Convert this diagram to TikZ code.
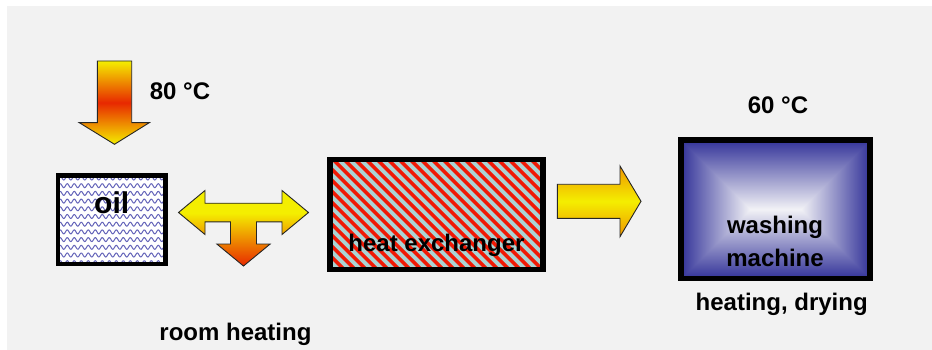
\documentclass[tikz,border=0pt]{standalone}
\usepackage{fontspec}
\setmainfont{Liberation Sans}
\definecolor{bg}{RGB}{242,242,242}
\definecolor{ayellow}{RGB}{244,238,0}
\definecolor{ared}{RGB}{232,40,0}
\definecolor{aorange}{RGB}{240,150,0}
\definecolor{wave}{RGB}{100,100,185}
\definecolor{stripebg}{RGB}{170,212,212}
\definecolor{stripered}{RGB}{240,25,5}
% yellow on top, turning red towards the bottom
\pgfdeclareverticalshading{teeshade}{100bp}{color(0bp)=(ared); color(25bp)=(ared); color(60bp)=(ayellow); color(100bp)=(ayellow)}
% rectangular gradient: blue rim (51,51,153) fading to a near-white centre
\pgfdeclarefunctionalshading{rimshade}{\pgfpointorigin}{\pgfpoint{100bp}{100bp}}{}{
  25 sub 2.77 mul dup 138.5 exch sub 2 copy gt {exch} if pop
  exch 25 sub 3.78 mul dup 189 exch sub 2 copy gt {exch} if pop
  2 copy gt {exch} if pop
  69.25 div dup 1 gt {pop 1} if dup 0 lt {pop 0} if
  dup 0.749 mul 0.2 add exch
  dup 0.749 mul 0.2 add exch
  0.365 mul 0.6 add
}
\begin{document}
\begin{tikzpicture}[x=1pt,y=-1pt,
  lbl/.style={font=\fontsize{24}{29}\selectfont\bfseries, inner sep=0pt},
  frame/.style={draw=black, line width=5pt},
  blockarrow/.style={draw=black!85, line width=0.9pt, line join=miter},
  boxnode/.style={inner sep=0pt, outer sep=0pt},
]
\useasboundingbox (0,0) rectangle (932,350);
\fill[white] (0,0) rectangle (932,350);
\fill[bg] (7,6) rectangle (932,350);

% ---- boxes ----
\node[boxnode, minimum width=107.5pt, minimum height=88.5pt] (oil) at (111.75,219.6) {};
\node[boxnode, minimum width=213pt, minimum height=110pt] (hx) at (436.5,214.5) {};
\node[boxnode, minimum width=189pt, minimum height=138.5pt] (wm) at (775.5,209.25) {};

% oil tank: white with wavy blue lines
\begin{scope}
  \clip (oil.north west) rectangle (oil.south east);
  \fill[white] (oil.north west) rectangle (oil.south east);
  \foreach \r in {0,...,11}
    \draw[wave, line width=1pt]
      plot[domain=55:170, samples=160] (\x, {178 + 7.7*\r + 2*sin((\x-55)*51.4)});
\end{scope}
\draw[frame, line width=4.6pt] (oil.north west) rectangle (oil.south east);

% heat exchanger: diagonal red stripes
\begin{scope}
  \clip (hx.north west) rectangle (hx.south east);
  \fill[stripebg] (hx.north west) rectangle (hx.south east);
  \foreach \k in {-12,...,21} {
    \pgfmathsetmacro\c{173.6+11*\k}
    \draw[stripered, line width=3.4pt] (\c+140,140) -- (\c+290,290);
  }
\end{scope}
\draw[frame, line width=5.3pt] (hx.north west) rectangle (hx.south east);

% washing machine
\shade[shading=rimshade] (wm.north west) rectangle (wm.south east);
\draw[frame, line width=5.5pt] (wm.north west) rectangle (wm.south east);

% ---- block arrows ----
% heat coming in from above
\draw[blockarrow, top color=ayellow, bottom color=ayellow, middle color=ared]
  (97.3,61) -- (131.7,61) -- (131.7,122.7) -- (149.3,122.7) -- (114.5,144.3)
  -- (79.3,122.7) -- (97.3,122.7) -- cycle;

% two-way arrow with a branch down to room heating
\draw[blockarrow, shading=teeshade]
  (178.5,212.5) -- (205,190.5) -- (205,203.2) -- (282,203.2) -- (282,190.5)
  -- (308.5,212.5) -- (282,234.5) -- (282,221.8) -- (256.5,221.8) -- (256.5,244)
  -- (270.2,244) -- (243.5,266) -- (216.8,244) -- (230.5,244) -- (230.5,221.8)
  -- (205,221.8) -- (205,234.5) -- cycle;

% arrow towards the washing machine
\draw[blockarrow, top color=aorange, bottom color=aorange, middle color=ayellow]
  (557.3,184.3) -- (620,184.3) -- (620,166) -- (641,201.3) -- (620,236.7)
  -- (620,218.3) -- (557.3,218.3) -- cycle;

% ---- labels ----
\node[lbl, anchor=base] (t80) at (180,100) {80 °C};
\node[lbl, anchor=base] (t60) at (778,113.3) {60 °C};
\node[inner sep=0pt, font=\fontsize{30}{36}\selectfont\bfseries, anchor=base] (toil) at (111.7,213.3) {oil};
\node[lbl, anchor=base] (thx) at (436.5,251.7) {heat exchanger};
\node[lbl, anchor=base] (twm1) at (775,233.3) {washing};
\node[lbl, anchor=base] (twm2) at (775,266) {machine};
\node[lbl, anchor=base] (thd) at (781.7,310.5) {heating, drying};
\node[lbl, anchor=base] (trh) at (235.5,340.5) {room heating};
\end{tikzpicture}
\end{document}
